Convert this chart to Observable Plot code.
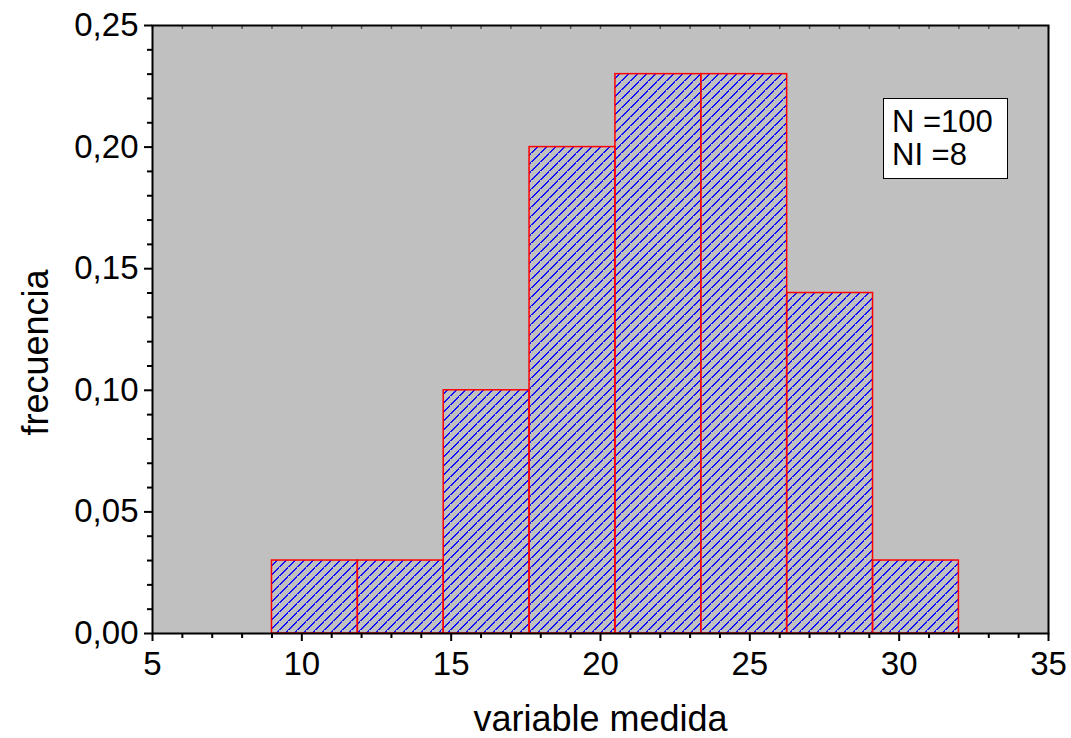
<!DOCTYPE html>
<html>
<head>
<meta charset="utf-8">
<script src="https://cdn.jsdelivr.net/npm/d3@7"></script>
<script src="https://cdn.jsdelivr.net/npm/@observablehq/plot@0.6"></script>
<style>
  html, body { margin: 0; padding: 0; background: #ffffff; }
  #wrap { position: relative; width: 1071px; height: 738px; font-family: "Liberation Sans", Arial, sans-serif; }
  #legend {
    position: absolute; left: 883px; top: 98px; width: 123px; height: 79px;
    background: #ffffff; border: 1px solid #000000;
    font-size: 31px; line-height: 33px; color: #000;
    padding: 0; box-sizing: content-box;
  }
  #legend div { padding-left: 8px; }
  #legend div:first-child { margin-top: 6px; }
</style>
</head>
<body>
<div id="wrap"></div>
<script>
// ---- data ----
const binEdges = [9, 11.875, 14.75, 17.625, 20.5, 23.375, 26.25, 29.125, 32];
const frequencies = [0.03, 0.03, 0.10, 0.20, 0.23, 0.23, 0.14, 0.03];
const xMajorTicks = [5, 10, 15, 20, 25, 30, 35];
const yMajorTicks = [0, 0.05, 0.10, 0.15, 0.20, 0.25];
const legendLines = ["N =100", "NI =8"];
const xLabel = "variable medida";
const yLabel = "frecuencia";

const bars = frequencies.map((f, i) => ({x1: binEdges[i], x2: binEdges[i + 1], y: f}));
const xMinorTicks = d3.range(5, 36, 1).filter(d => d % 5 !== 0);
const yMinorTicks = d3.range(0, 26, 1).filter(d => d % 5 !== 0).map(d => d / 100);
const xAllTicks = d3.range(5, 36, 1);

const svg = Plot.plot({
  width: 1071,
  height: 738,
  marginLeft: 152,
  marginRight: 23,
  marginTop: 25,
  marginBottom: 105,
  style: {fontFamily: "'Liberation Sans', Arial, sans-serif", background: "#ffffff", color: "#000"},
  x: {domain: [5, 35]},
  y: {domain: [0, 0.25]},
  marks: [
    Plot.frame({fill: "#c0c0c0"}),
    Plot.rect(bars, {x1: "x1", x2: "x2", y1: 0, y2: "y", fill: "url(#hatch)", stroke: "#ff0000", strokeWidth: 1.5}),
    Plot.axisX({ticks: xMajorTicks, tickSize: 8, tickPadding: 10, fontSize: 33, strokeWidth: 2, tickFormat: d => String(d), label: null}),
    Plot.axisX({ticks: xMinorTicks, tickSize: 5, strokeWidth: 2, tickFormat: () => "", label: null}),
    Plot.axisX({anchor: "top", ticks: xAllTicks, tickSize: -3, strokeWidth: 1.5, stroke: "#555", tickFormat: () => "", label: null}),
    Plot.axisY({ticks: yMajorTicks, tickSize: 8, tickPadding: 6, fontSize: 33, strokeWidth: 2, tickFormat: d => d.toFixed(2).replace(".", ","), label: null}),
    Plot.axisY({ticks: yMinorTicks, tickSize: 5, strokeWidth: 2, tickFormat: () => "", label: null}),
    Plot.frame({stroke: "#000000", strokeWidth: 2}),
    Plot.text([xLabel], {frameAnchor: "bottom", dy: 86, fontSize: 36, lineAnchor: "middle", textAnchor: "middle", text: d => d}),
    Plot.text([yLabel], {frameAnchor: "left", dx: -116, dy: 23, rotate: -90, fontSize: 36, lineAnchor: "middle", textAnchor: "middle", text: d => d})
  ]
});

// hatch pattern for the bars: crisp staircase diagonals
const P = 9;
const defs = d3.select(svg).insert("defs", ":first-child");
const pat = defs.append("pattern")
  .attr("id", "hatch")
  .attr("patternUnits", "userSpaceOnUse")
  .attr("x", 0)
  .attr("y", 0)
  .attr("width", P)
  .attr("height", P);
pat.selectAll("rect")
  .data(d3.range(P))
  .join("rect")
  .attr("x", i => i)
  .attr("y", i => P - 1 - i)
  .attr("width", 2)
  .attr("height", 1)
  .attr("fill", "#1010ff")
  .attr("shape-rendering", "crispEdges");
pat.append("rect")
  .attr("x", 0).attr("y", P - 1).attr("width", 1).attr("height", 1)
  .attr("fill", "#1010ff").attr("shape-rendering", "crispEdges");

const wrap = document.getElementById("wrap");
wrap.appendChild(svg);
const legend = document.createElement("div");
legend.id = "legend";
legendLines.forEach(t => {
  const d = document.createElement("div");
  d.textContent = t;
  legend.appendChild(d);
});
wrap.appendChild(legend);
</script>
</body>
</html>
